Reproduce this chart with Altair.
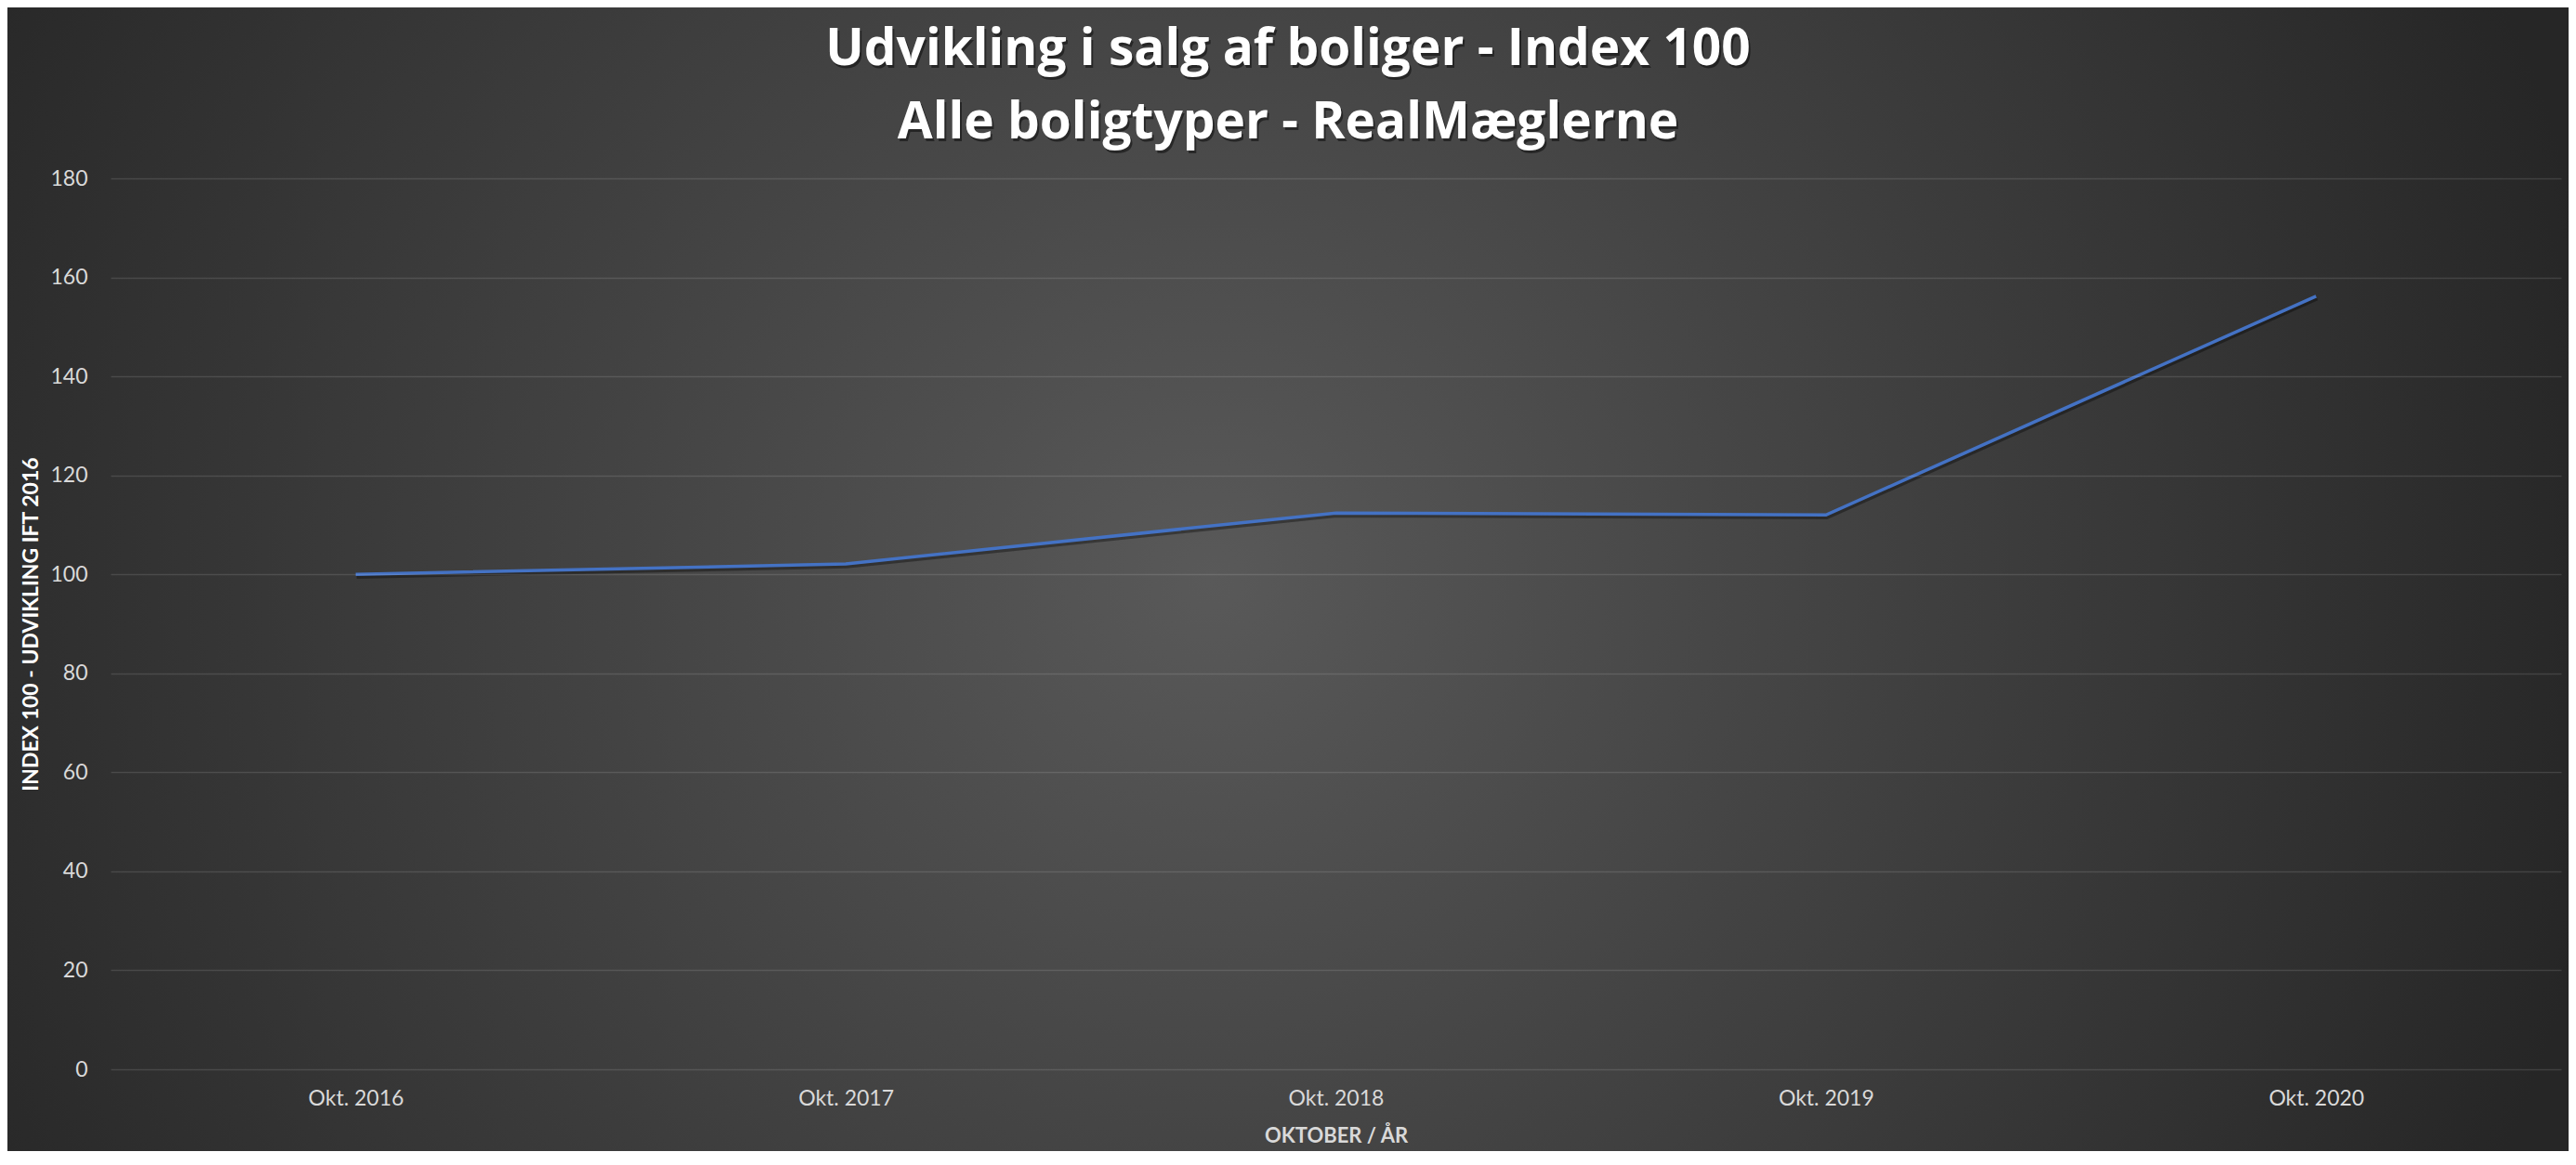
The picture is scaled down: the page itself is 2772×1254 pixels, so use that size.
import altair as alt
import pandas as pd

# ---- data ----
periods = ["Okt. 2016", "Okt. 2017", "Okt. 2018", "Okt. 2019", "Okt. 2020"]
index_values = [100.0, 102.1, 112.4, 112.0, 156.2]
y_ticks = [0, 20, 40, 60, 80, 100, 120, 140, 160, 180]

title_lines = ["Udvikling i salg af boliger - Index 100", "Alle boligtyper - RealMæglerne"]
x_title = "OKTOBER / ÅR"
y_title = "INDEX 100 - UDVIKLING IFT 2016"

df = pd.DataFrame({"periode": periods, "index": index_values})

W, H = 2637, 959
PAD_L, PAD_T, PAD_R, PAD_B = 111, 184, 8, 88

FONT = "Lato"
TITLE_FONT = "Open Sans"
LABEL_COLOR = "#d9d9d9"

x_enc = alt.X(
    "periode:O",
    sort=periods,
    scale=alt.Scale(padding=0.5),
    axis=alt.Axis(
        title=x_title,
        labelAngle=0,
        labelFont=FONT,
        labelFontSize=23,
        labelColor=LABEL_COLOR,
        labelPadding=20,
        ticks=False,
        domain=False,
        grid=False,
        titleFont=FONT,
        titleFontSize=22,
        titleFontWeight="bold",
        titleColor=LABEL_COLOR,
        titleY=71,
        titleBaseline="middle",
        zindex=1,
    ),
)
y_enc = alt.Y(
    "index:Q",
    scale=alt.Scale(domain=[0, 180], nice=False),
    axis=alt.Axis(
        title=y_title,
        values=y_ticks,
        labelFont=FONT,
        labelFontSize=23,
        labelColor=LABEL_COLOR,
        labelPadding=25,
        ticks=False,
        domain=False,
        grid=True,
        gridColor="#ffffff",
        gridOpacity=0.12,
        gridWidth=1.5,
        titleFont=FONT,
        titleFontSize=23,
        titleFontWeight="bold",
        titleColor="#ffffff",
        titleAngle=270,
        titleX=-86,
        titleY=H / 2,
        titleAlign="center",
        titleBaseline="middle",
        zindex=1,
    ),
)

one_row = alt.Data(values=[{"k": 1}])

bg = (
    alt.Chart(one_row)
    .mark_rect(
        fill={
            "gradient": "radial",
            "stops": [
                {"offset": 0, "color": "#595959"},
                {"offset": 1, "color": "#262626"},
            ],
            "x1": 0.47, "y1": 0.5, "r1": 0,
            "x2": 0.47, "y2": 0.5, "r2": 0.55,
        },
        strokeWidth=0,
    )
    .encode(
        x=alt.value(-PAD_L - 10),
        x2=alt.value(W + PAD_R + 10),
        y=alt.value(-PAD_T - 680),
        y2=alt.value(H + PAD_B + 680),
    )
)

TITLE_X = 1267
TITLE_Y = [-122, -43]


def title_layer(i, color, dx=0, dy=0, opacity=1.0):
    return (
        alt.Chart(one_row)
        .mark_text(
            font=TITLE_FONT,
            fontSize=55,
            fontWeight="bold",
            color=color,
            opacity=opacity,
            align="center",
            baseline="alphabetic",
            dx=dx,
            dy=dy,
        )
        .encode(
            text=alt.value(title_lines[i]),
            x=alt.value(TITLE_X),
            y=alt.value(TITLE_Y[i]),
        )
    )


titles = [title_layer(i, "#000000", dx=2, dy=3, opacity=0.45) for i in range(2)] + [
    title_layer(i, "#ffffff") for i in range(2)
]

shadow = (
    alt.Chart(df)
    .mark_line(color="#000000", opacity=0.35, strokeWidth=4.5, yOffset=2.5, xOffset=1)
    .encode(x=x_enc, y=y_enc)
)
line = (
    alt.Chart(df)
    .mark_line(color="#4472C4", strokeWidth=3.5)
    .encode(x=x_enc, y=y_enc)
)

chart = (
    alt.layer(bg, *titles, shadow, line)
    .properties(
        width=W,
        height=H,
        autosize=alt.AutoSizeParams(type="none"),
        padding={"left": PAD_L, "top": PAD_T, "right": PAD_R, "bottom": PAD_B},
    )
    .configure(background="#2a2a2a")
    .configure_view(strokeWidth=0)
)

chart.save("out.html", embed_options={"renderer": "svg", "actions": False})
